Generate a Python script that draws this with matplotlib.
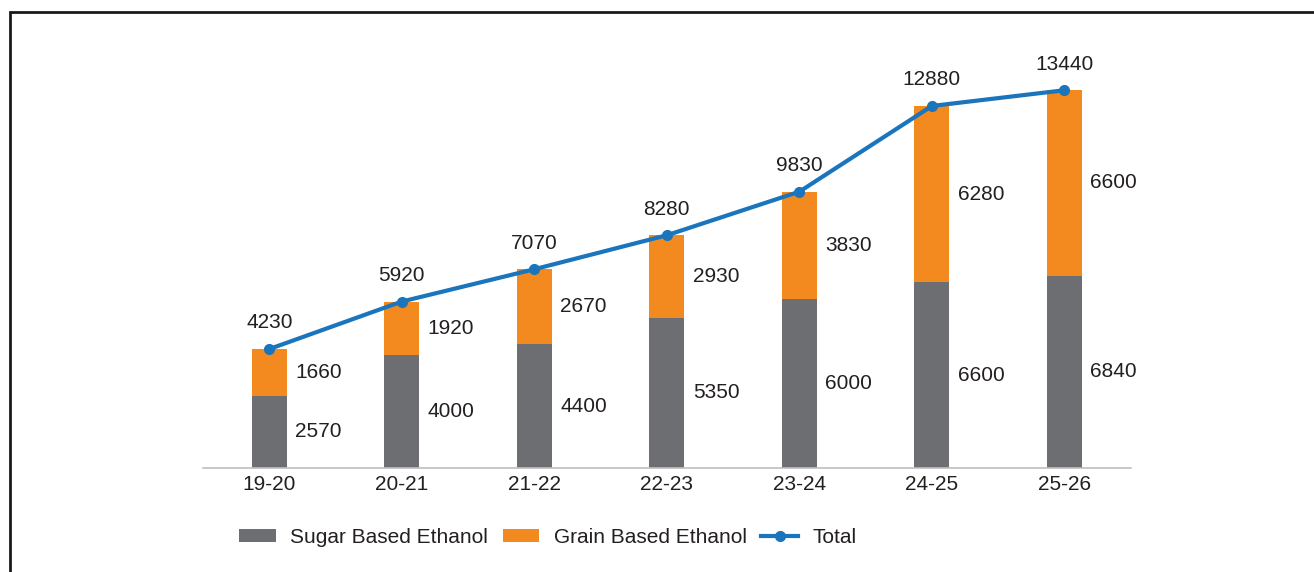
import matplotlib.pyplot as plt
import matplotlib.patches as patches
import numpy as np

plt.rcParams['font.family'] = ['Liberation Sans', 'DejaVu Sans']

years = ['19-20', '20-21', '21-22', '22-23', '23-24', '24-25', '25-26']
sugar = [2570, 4000, 4400, 5350, 6000, 6600, 6840]
grain = [1660, 1920, 2670, 2930, 3830, 6280, 6600]
total = [4230, 5920, 7070, 8280, 9830, 12880, 13440]

c_sugar = '#6d6e71'
c_grain = '#f38a20'
c_total = '#1a75bc'
c_text = '#231f20'

fig = plt.figure(figsize=(13.14, 5.72), dpi=100)
ax = fig.add_axes([0.1545, 0.182, 0.706, 0.786])

x = np.arange(len(years))
w = 0.265
b1 = ax.bar(x, sugar, w, color=c_sugar, label='Sugar Based Ethanol', zorder=2)
b2 = ax.bar(x, grain, w, bottom=sugar, color=c_grain, label='Grain Based Ethanol', zorder=2)
l1, = ax.plot(x, total, color=c_total, lw=3, marker='o', ms=7, label='Total', zorder=3)

for i in range(len(years)):
    ax.annotate(str(sugar[i]), (x[i] + w / 2, sugar[i] / 2), xytext=(6, 0),
                textcoords='offset points', va='center', ha='left', fontsize=15, color=c_text)
    ax.annotate(str(grain[i]), (x[i] + w / 2, sugar[i] + grain[i] / 2), xytext=(6, 0),
                textcoords='offset points', va='center', ha='left', fontsize=15, color=c_text)
    ax.annotate(str(total[i]), (x[i], total[i]), xytext=(0, 12),
                textcoords='offset points', va='bottom', ha='center', fontsize=15, color=c_text)

ax.set_xlim(-0.5, len(years) - 0.5)
ax.set_ylim(0, 16000)
ax.set_xticks(x)
ax.set_xticklabels(years, fontsize=15, color=c_text)
ax.tick_params(axis='x', length=0, pad=5)
ax.set_yticks([])
for s in ['top', 'right', 'left']:
    ax.spines[s].set_visible(False)
ax.spines['bottom'].set_color('#bfbfbf')
ax.spines['bottom'].set_linewidth(1.2)

leg = fig.legend(handles=[b1, b2, l1], loc='center', bbox_to_anchor=(0.417, 0.06), ncol=3,
                 frameon=False, fontsize=15, handlelength=1.75, handleheight=0.6,
                 columnspacing=0.7, handletextpad=0.7)
for t in leg.get_texts():
    t.set_color(c_text)

# outer frame
fig.add_artist(patches.Rectangle((10 / 1314, -0.1), 1.2, 1.1 - 12 / 572,
                                 transform=fig.transFigure, fill=False,
                                 edgecolor='#1a1a1a', lw=2, clip_on=False))

plt.savefig('out.png', dpi=100)
